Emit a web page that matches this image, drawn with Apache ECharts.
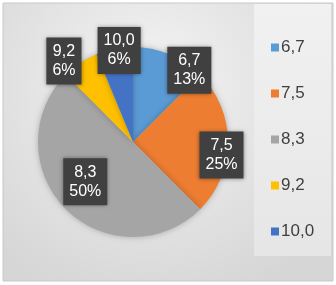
<!DOCTYPE html>
<html>
<head>
	<meta charset="utf-8">
	<title>pie</title>
	<style>html,body{margin:0;padding:0;background:#fff;}</style>
</head>
<body>
<script type="text/javascript" src="https://cdn.jsdelivr.net/npm/echarts@6/dist/echarts.min.js"></script>
<div id="container" style="width: 336px;height: 285px;"></div>
<script type="text/javascript">
    // data
    var categories = ['6,7', '7,5', '8,3', '9,2', '10,0'];
    var counts = [2, 4, 8, 1, 1];
    var colors = ['#5B9BD5', '#ED7D31', '#A5A5A5', '#FFC000', '#4472C4'];
    // label nudges (like excel best fit)
    var labelShift = [[37, -25], [38, 13], [-12, 4], [-41, -39], [-4, -42]];

    var myChart = echarts.init(document.getElementById('container'));
    var option = {
        animation: false,
        graphic: [
            {
                type: 'rect', z: -10,
                shape: {x: 3, y: 3, width: 330, height: 278},
                style: {
                    fill: new echarts.graphic.RadialGradient(0.45, 0.3, 0.8, [
                        {offset: 0, color: '#f4f4f4'},
                        {offset: 1, color: '#d6d6d6'}
                    ]),
                    stroke: '#c8c8c8', lineWidth: 1
                }
            },
            {
                type: 'rect', z: -9,
                shape: {x: 254, y: 4, width: 77, height: 252},
                style: {
                    fill: new echarts.graphic.LinearGradient(0, 0, 0, 1, [
                        {offset: 0, color: '#f1f1f1'},
                        {offset: 1, color: '#e6e6e6'}
                    ])
                }
            }
        ],
        legend: {
            orient: 'vertical',
            left: 266,
            top: 34,
            itemWidth: 8,
            itemHeight: 8,
            itemGap: 29,
            icon: 'rect',
            textStyle: {fontFamily: 'Liberation Sans', fontSize: 17, color: '#404040', padding: [0, 0, 0, -3]},
            data: categories
        },
        series: [
            {
                type: 'pie',
                center: [133, 142],
                radius: 95,
                startAngle: 90,
                clockwise: true,
                data: categories.map(function (c, i) {
                    return {name: c, value: counts[i], itemStyle: {color: colors[i]}};
                }),
                itemStyle: {
                    shadowBlur: 6,
                    shadowColor: 'rgba(0,0,0,0.25)'
                },
                label: {
                    position: 'inside',
                    formatter: function (p) {
                        return p.name + '\n' + Math.round(p.percent) + '%';
                    },
                    fontFamily: 'Liberation Sans',
                    fontSize: 16,
                    lineHeight: 19,
                    color: '#ffffff',
                    backgroundColor: '#404040',
                    padding: [5, 6, 4, 6],
                    shadowBlur: 4,
                    shadowColor: 'rgba(0,0,0,0.4)'
                },
                labelLayout: function (params) {
                    var s = labelShift[params.dataIndex];
                    return {dx: s[0], dy: s[1]};
                },
                emphasis: {disabled: true}
            }
        ]
    };
    myChart.setOption(option);
</script>
</body>
</html>
